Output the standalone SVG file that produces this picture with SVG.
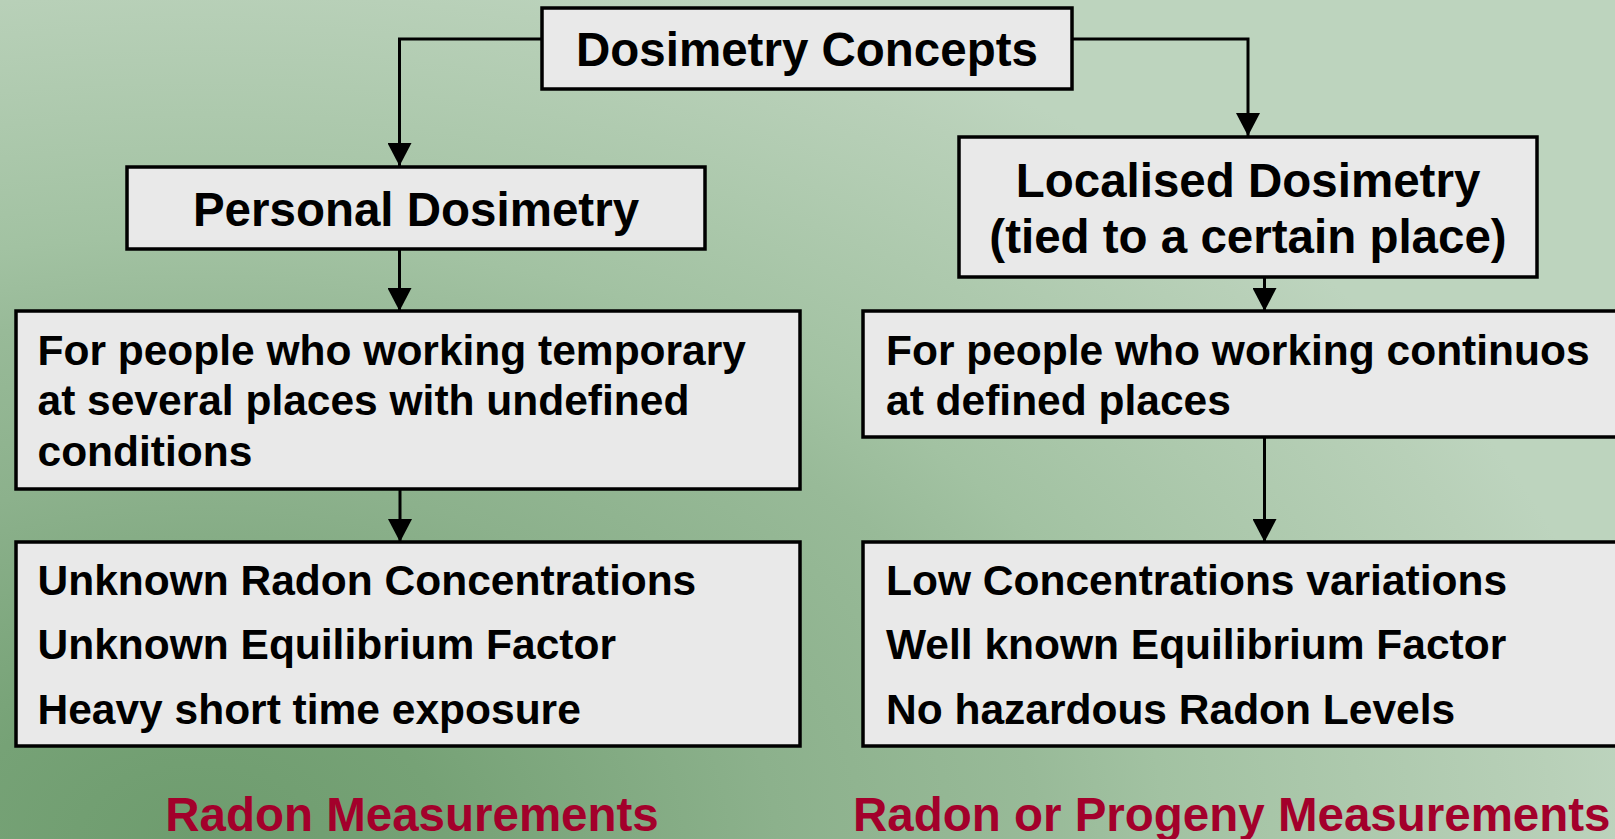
<svg xmlns="http://www.w3.org/2000/svg" width="1615" height="839" viewBox="0 0 1615 839">
  <defs>
    <radialGradient id="bg" gradientUnits="userSpaceOnUse" cx="200" cy="839" r="900" fx="200" fy="839" gradientTransform="translate(200 839) scale(1.6 1) translate(-200 -839)">
      <stop offset="0" stop-color="#6E9C6E"/>
      <stop offset="0.17" stop-color="#76A276"/>
      <stop offset="0.4" stop-color="#8CB18C"/>
      <stop offset="0.58" stop-color="#98BA98"/>
      <stop offset="0.67" stop-color="#A2C2A2"/>
      <stop offset="0.94" stop-color="#B8D0B8"/>
      <stop offset="1" stop-color="#BDD4BE"/>
    </radialGradient>
    <marker id="arrow" markerUnits="userSpaceOnUse" markerWidth="26" markerHeight="24" refX="23" refY="12" orient="auto">
      <path d="M0,0 L23,12 L0,24 Z" fill="#000"/>
    </marker>
    <style>
      .box { fill: #E9E9E9; stroke: #000; stroke-width: 3.5; }
      .head { font-family: "Liberation Sans", Arial, sans-serif; font-weight: bold; font-size: 47.5px; fill: #000; text-anchor: middle; }
      .body { font-family: "Liberation Sans", Arial, sans-serif; font-weight: bold; font-size: 42.5px; fill: #000; }
      .red { font-family: "Liberation Sans", Arial, sans-serif; font-weight: bold; font-size: 47.5px; fill: #A3002B; }
      .conn { fill: none; stroke: #000; stroke-width: 3; marker-end: url(#arrow); }
    </style>
  </defs>
  <rect x="0" y="0" width="1615" height="839" fill="url(#bg)"/>

  <g id="connectors">
    <path class="conn" d="M542,39 H399.5 V166"/>
    <path class="conn" d="M1072,39 H1248 V136"/>
    <path class="conn" d="M399.5,249 V311"/>
    <path class="conn" d="M1264.5,277 V311"/>
    <path class="conn" d="M400,489 V542"/>
    <path class="conn" d="M1264.5,437 V542"/>
  </g>

  <g id="dosimetry-concepts">
    <rect class="box" x="542" y="8" width="530" height="81"/>
    <text class="head" x="807" y="66">Dosimetry Concepts</text>
  </g>

  <g id="personal-dosimetry">
    <rect class="box" x="127" y="167" width="578" height="82"/>
    <text class="head" x="416" y="226">Personal Dosimetry</text>
  </g>

  <g id="localised-dosimetry">
    <rect class="box" x="959" y="137" width="578" height="140"/>
    <text class="head" x="1248" y="197">Localised Dosimetry</text>
    <text class="head" x="1248" y="253">(tied to a certain place)</text>
  </g>

  <g id="personal-people">
    <rect class="box" x="16" y="311" width="784" height="178"/>
    <text class="body" x="37.5" y="364.5">For people who working temporary</text>
    <text class="body" x="37.5" y="414.5">at several places with undefined</text>
    <text class="body" x="37.5" y="466">conditions</text>
  </g>

  <g id="localised-people">
    <rect class="box" x="863" y="311" width="770" height="126"/>
    <text class="body" x="886" y="364.5">For people who working continuos</text>
    <text class="body" x="886" y="414.5">at defined places</text>
  </g>

  <g id="personal-conditions">
    <rect class="box" x="16" y="542" width="784" height="204"/>
    <text class="body" x="37.5" y="595">Unknown Radon Concentrations</text>
    <text class="body" x="37.5" y="659">Unknown Equilibrium Factor</text>
    <text class="body" x="37.5" y="724">Heavy short time exposure</text>
  </g>

  <g id="localised-conditions">
    <rect class="box" x="863" y="542" width="770" height="204"/>
    <text class="body" x="886" y="595">Low Concentrations variations</text>
    <text class="body" x="886" y="659">Well known Equilibrium Factor</text>
    <text class="body" x="886" y="724">No hazardous Radon Levels</text>
  </g>

  <g id="radon-measurements">
    <text class="red" x="412" y="831" text-anchor="middle">Radon Measurements</text>
  </g>

  <g id="progeny-measurements">
    <text class="red" x="853" y="831">Radon or Progeny Measurements</text>
  </g>
</svg>
